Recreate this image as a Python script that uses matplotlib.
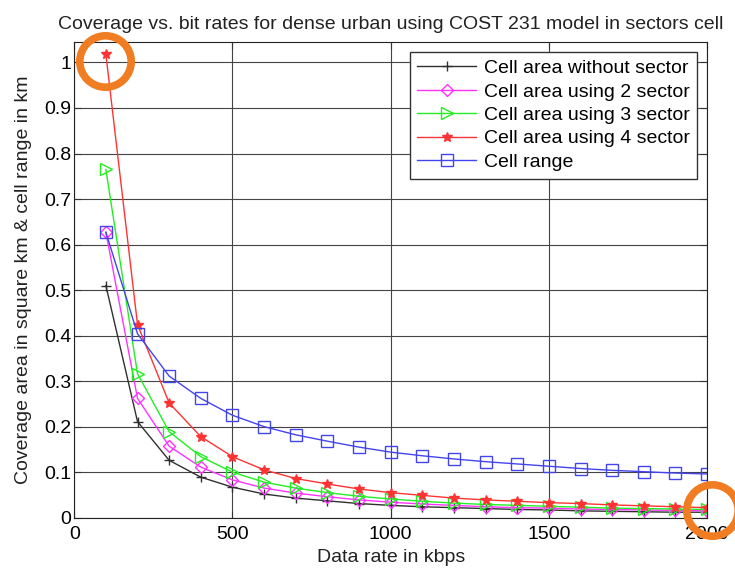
import matplotlib
matplotlib.use("Agg")
import matplotlib.pyplot as plt

plt.rcParams['font.family'] = ['Liberation Sans', 'DejaVu Sans']

# data rates (kbps)
rates = [100, 200, 300, 400, 500, 600, 700, 800, 900, 1000,
         1100, 1200, 1300, 1400, 1500, 1600, 1700, 1800, 1900, 2000]

area_no_sector = [0.510, 0.211, 0.126, 0.089, 0.067, 0.052, 0.043, 0.037, 0.031, 0.027,
                  0.024, 0.022, 0.020, 0.018, 0.017, 0.015, 0.014, 0.013, 0.012, 0.012]
area_2_sector = [0.627, 0.262, 0.157, 0.111, 0.083, 0.065, 0.054, 0.046, 0.039, 0.034,
                 0.030, 0.027, 0.024, 0.022, 0.021, 0.019, 0.018, 0.017, 0.016, 0.015]
area_3_sector = [0.765, 0.316, 0.189, 0.134, 0.100, 0.078, 0.065, 0.055, 0.047, 0.041,
                 0.036, 0.032, 0.029, 0.027, 0.025, 0.023, 0.021, 0.020, 0.019, 0.018]
area_4_sector = [1.018, 0.424, 0.252, 0.178, 0.134, 0.105, 0.086, 0.074, 0.063, 0.055,
                 0.049, 0.043, 0.039, 0.036, 0.033, 0.031, 0.028, 0.026, 0.024, 0.022]
cell_range = [0.627, 0.404, 0.311, 0.262, 0.225, 0.200, 0.182, 0.168, 0.155, 0.144,
              0.136, 0.129, 0.123, 0.118, 0.113, 0.108, 0.104, 0.101, 0.098, 0.096]

labels = ['Cell area without sector', 'Cell area using 2 sector',
          'Cell area using 3 sector', 'Cell area using 4 sector', 'Cell range']

# highlighted points (orange circles)
hl_x = [96, 2015]
hl_y = [1.004, 0.017]

fs = 14

fig = plt.figure(figsize=(7.35, 5.68), dpi=100)
ax = fig.add_axes([0.101, 0.0886, 0.861, 0.8375])

ax.plot(rates, area_no_sector, color='#303030', marker='+', ms=7, lw=1, label=labels[0])
ax.plot(rates, area_2_sector, color='#ff33ff', marker='D', ms=6.5, mfc='none', lw=1, label=labels[1])
ax.plot(rates, area_3_sector, color='#22ee22', marker='>', ms=8, mfc='none', lw=1, label=labels[2])
ax.plot(rates, area_4_sector, color='#ff3333', marker='*', ms=7, lw=1, label=labels[3])
ax.plot(rates, cell_range, color='#4444ee', marker='s', ms=8.5, mfc='none', lw=1, label=labels[4])

ax.plot(hl_x, hl_y, ls='none', marker='o', ms=37, mfc='none', mec='#f07d22', mew=5.5, clip_on=False, zorder=10)

ax.set_xlim(0, 2000)
ax.set_ylim(0, 1.045)
ax.set_xticks([0, 500, 1000, 1500, 2000])
ax.set_yticks([0, 0.1, 0.2, 0.3, 0.4, 0.5, 0.6, 0.7, 0.8, 0.9, 1])
ax.set_yticklabels(['0', '0.1', '0.2', '0.3', '0.4', '0.5', '0.6', '0.7', '0.8', '0.9', '1'])
ax.tick_params(direction='in', top=True, right=True, labelsize=fs, length=5, color='#333333')
ax.tick_params(axis='x', pad=6)
ax.tick_params(axis='y', pad=2)
ax.grid(True, color='#444444', lw=0.8)
for s in ax.spines.values():
    s.set_color('#222222')

ax.set_title('Coverage vs. bit rates for dense urban using COST 231 model in sectors cell',
             fontsize=fs, color='#222222', pad=9)
ax.set_xlabel('Data rate in kbps', fontsize=fs, color='#222222', labelpad=4)
ax.set_ylabel('Coverage area in square km & cell range in km', fontsize=fs, color='#222222', labelpad=9)

leg = ax.legend(loc='upper right', fontsize=fs, fancybox=False, edgecolor='#333333',
                framealpha=1, borderaxespad=0.5, handlelength=3.0, labelspacing=0.3,
                borderpad=0.4, handletextpad=0.4)
leg.get_frame().set_linewidth(1)

fig.savefig('out.png', dpi=100)
